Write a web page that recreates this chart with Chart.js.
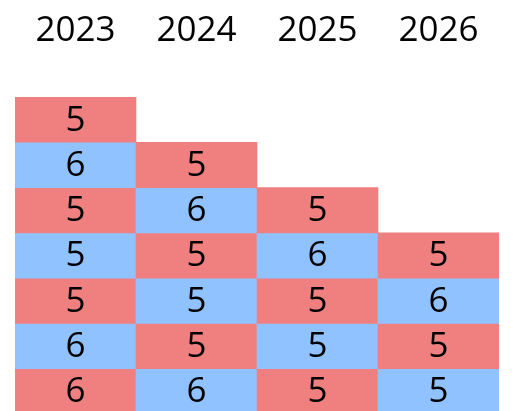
<!DOCTYPE html>
<html>
<head>
<meta charset="utf-8">
<script src="https://cdn.jsdelivr.net/npm/chart.js@4/dist/chart.umd.min.js"></script>
<style>
  html, body { margin: 0; padding: 0; background: #fff; overflow: hidden; }
  #wrap { width: 516px; height: 414px; }
</style>
</head>
<body>
<div id="wrap"><canvas id="gridChart"></canvas></div>
<script>
// columns across the top and the row where each one starts
const years = ['2023', '2024', '2025', '2026'];
const startRow = [0, 1, 2, 3];

// cell values, top to bottom, per column
const vals2023 = [5, 6, 5, 5, 5, 6, 6];
const vals2024 = [5, 6, 5, 5, 5, 6];
const vals2025 = [5, 6, 5, 5, 5];
const vals2026 = [5, 6, 5, 5];
const columnValues = [vals2023, vals2024, vals2025, vals2026];

const RED = '#F08080';
const BLUE = '#90C2FF';
const FONT = "'Open Sans', sans-serif";

const maxLen = Math.max(...columnValues.map(v => v.length));
const datasets = [];
for (let k = 0; k < maxLen; k++) {
    datasets.push({
        label: 'cell ' + k,
        data: columnValues.map((v, c) => k < v.length ? [startRow[c] + k, startRow[c] + k + 1] : null),
        cellText: columnValues.map(v => k < v.length ? String(v[k]) : ''),
        backgroundColor: k % 2 === 0 ? RED : BLUE,
        borderWidth: 0,
        grouped: false,
        categoryPercentage: 1,
        barPercentage: 1
    });
}

// draws the number in the middle of every cell
const cellLabels = {
    id: 'cellLabels',
    afterDatasetsDraw(chart) {
        const ctx = chart.ctx;
        ctx.save();
        ctx.font = '35px ' + FONT;
        ctx.fillStyle = '#000';
        ctx.textAlign = 'center';
        ctx.textBaseline = 'middle';
        chart.data.datasets.forEach((ds, i) => {
            chart.getDatasetMeta(i).data.forEach((bar, j) => {
                if (!ds.cellText[j]) return;
                const p = bar.getProps(['x', 'y', 'base'], true);
                ctx.fillText(ds.cellText[j], p.x, (p.y + p.base) / 2 + 1);
            });
        });
        ctx.restore();
    }
};

function draw() {
    new Chart(document.getElementById('gridChart').getContext('2d'), {
        type: 'bar',
        data: { labels: years, datasets: datasets },
        plugins: [cellLabels],
        options: {
            responsive: true,
            maintainAspectRatio: false,
            animation: false,
            layout: { padding: { top: 10, left: 15, right: 17, bottom: 0 } },
            plugins: { legend: { display: false }, tooltip: { enabled: false } },
            scales: {
                x: {
                    position: 'top',
                    grid: { display: false, drawTicks: false },
                    border: { display: false },
                    ticks: { color: '#000', font: { family: FONT, size: 35 }, padding: 45 },
                    afterFit(scale) {
                        scale.height = 87;
                        scale.paddingLeft = 0;
                        scale.paddingRight = 0;
                    }
                },
                y: {
                    display: false,
                    reverse: true,
                    min: 0,
                    max: 7
                }
            }
        }
    });
}

document.fonts.load("35px 'Open Sans'").then(draw, draw);
</script>
</body>
</html>
